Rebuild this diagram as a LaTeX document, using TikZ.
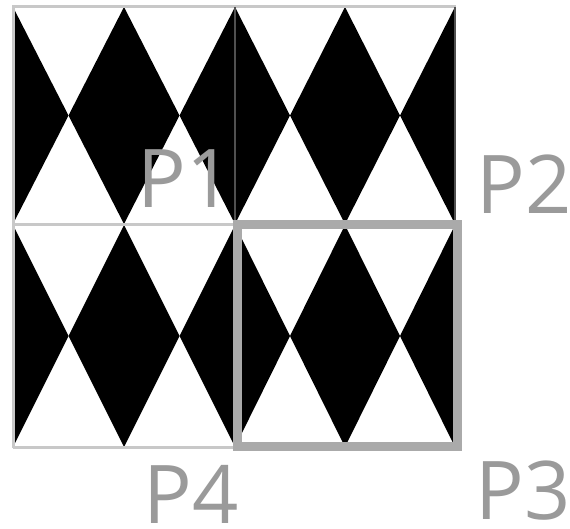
\documentclass[tikz,border=0pt]{standalone}
\usepackage{fontspec}
\setmainfont{Open Sans}
\definecolor{lblgray}{HTML}{9A9A9A}
\definecolor{edgegray}{HTML}{C8C8C8}
\definecolor{framegray}{HTML}{AAAAAA}
\definecolor{divgray}{HTML}{505050}
\newcommand\diatile[4]{%
  \begin{scope}[shift={(#1,#2)},x=#3pt,y=-#4pt]
    \fill[black] (0,0) -- (0.25,0.5) -- (0,1) -- cycle;
    \fill[black] (0.5,0) -- (0.75,0.5) -- (0.5,1) -- (0.25,0.5) -- cycle;
    \fill[black] (1,0) -- (0.75,0.5) -- (1,1) -- cycle;
  \end{scope}}
\tikzset{
  lbl/.style={text=lblgray,inner sep=0pt,font=\fontsize{81}{81}\selectfont},
  edgeline/.style={draw=edgegray,line width=3pt},
  divline/.style={draw=divgray,line width=2.5pt},
  frameline/.style={draw=framegray,line width=9pt}
}
\begin{document}
\begin{tikzpicture}[x=1pt,y=-1pt]
  \fill[white] (0,0) rectangle (570,529);
  \useasboundingbox (0,0) rectangle (570,529);
  % tiles
  \diatile{13}{7}{222}{217}
  \diatile{235}{7}{220}{217}
  \diatile{13}{225}{222}{222}
  \diatile{235}{225}{220}{222}
  % light edges
  \draw[edgeline] (12,7) -- (456,7);
  \draw[edgeline] (13,6) -- (13,448);
  \draw[edgeline] (13,224.5) -- (235,224.5);
  \draw[edgeline] (13,447) -- (235,447);
  % dark dividers
  \draw[divline] (235,7) -- (235,223);
  \draw[divline] (455,7) -- (455,223);
  % P3 frame
  \draw[frameline] (237.5,225) rectangle (457.5,446.5);
  % labels
  \node[lbl] (p1) at (185.5,179) {P1};
  \node[lbl] (p2) at (524,184) {P2};
  \node[lbl] (p4) at (191,494) {P4};
  \node[lbl] (p3) at (523.5,491) {P3};
\end{tikzpicture}
\end{document}
